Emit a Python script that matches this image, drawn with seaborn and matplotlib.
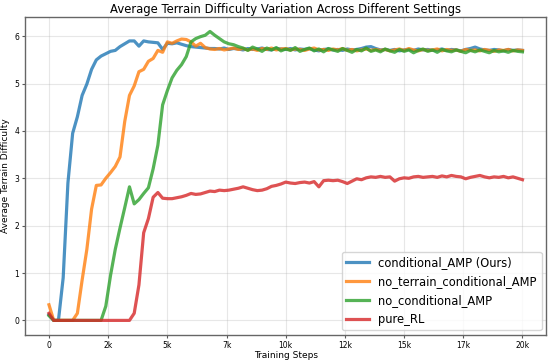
import numpy as np
import pandas as pd
import matplotlib
matplotlib.use("Agg")
import matplotlib.pyplot as plt
from matplotlib.ticker import FuncFormatter, MultipleLocator
import seaborn as sns

step_size = 200  # one logged value every 200 training steps

conditional_amp = [
    0.12, 0.0, 0.0, 0.9, 2.9, 3.95, 4.3, 4.75, 4.99, 5.3,
    5.5, 5.58, 5.63, 5.68, 5.7, 5.78, 5.84, 5.9, 5.9, 5.79,
    5.9, 5.88, 5.87, 5.86, 5.72, 5.85, 5.84, 5.86, 5.83, 5.8,
    5.78, 5.77, 5.76, 5.75, 5.74, 5.74, 5.73, 5.75, 5.72, 5.74,
    5.73, 5.71, 5.74, 5.72, 5.73, 5.75, 5.72, 5.71, 5.74, 5.73,
    5.72, 5.74, 5.71, 5.73, 5.72, 5.74, 5.71, 5.69, 5.72, 5.73,
    5.71, 5.72, 5.70, 5.73, 5.71, 5.72, 5.74, 5.77, 5.78, 5.74,
    5.71, 5.72, 5.70, 5.72, 5.69, 5.71, 5.72, 5.70, 5.73, 5.71,
    5.72, 5.70, 5.71, 5.73, 5.70, 5.72, 5.71, 5.69, 5.72, 5.74,
    5.77, 5.73, 5.71, 5.70, 5.72, 5.71, 5.69, 5.72, 5.70, 5.71,
    5.70,
]

no_terrain_conditional_amp = [
    0.33, 0.0, 0.0, 0.0, 0.0, 0.0, 0.15, 0.85, 1.5, 2.35,
    2.85, 2.86, 3.0, 3.12, 3.25, 3.45, 4.2, 4.75, 4.95, 5.25,
    5.3, 5.47, 5.53, 5.7, 5.66, 5.88, 5.85, 5.9, 5.94, 5.93,
    5.88, 5.79, 5.85, 5.76, 5.73, 5.72, 5.74, 5.71, 5.73, 5.75,
    5.72, 5.74, 5.71, 5.73, 5.70, 5.74, 5.72, 5.75, 5.71, 5.73,
    5.74, 5.71, 5.73, 5.72, 5.70, 5.73, 5.75, 5.71, 5.72, 5.70,
    5.73, 5.71, 5.74, 5.70, 5.72, 5.69, 5.71, 5.73, 5.70, 5.72,
    5.70, 5.72, 5.69, 5.71, 5.73, 5.70, 5.74, 5.71, 5.69, 5.72,
    5.70, 5.71, 5.73, 5.69, 5.72, 5.70, 5.71, 5.68, 5.72, 5.70,
    5.71, 5.69, 5.72, 5.70, 5.68, 5.71, 5.70, 5.72, 5.69, 5.71,
    5.70,
]

no_conditional_amp = [
    0.1, 0.0, 0.0, 0.0, 0.0, 0.0, 0.0, 0.0, 0.0, 0.0,
    0.0, 0.0, 0.3, 0.95, 1.5, 1.95, 2.38, 2.82, 2.46, 2.55,
    2.68, 2.8, 3.2, 3.7, 4.55, 4.85, 5.12, 5.28, 5.4, 5.57,
    5.88, 5.95, 5.99, 6.02, 6.1, 6.02, 5.95, 5.88, 5.84, 5.82,
    5.78, 5.75, 5.70, 5.77, 5.73, 5.68, 5.75, 5.71, 5.76, 5.69,
    5.73, 5.70, 5.76, 5.68, 5.72, 5.75, 5.69, 5.73, 5.67, 5.74,
    5.71, 5.68, 5.74, 5.70, 5.66, 5.72, 5.69, 5.75, 5.68, 5.71,
    5.67, 5.73, 5.69, 5.66, 5.72, 5.68, 5.71, 5.65, 5.70, 5.73,
    5.68, 5.71, 5.66, 5.72, 5.69, 5.67, 5.71, 5.68, 5.65, 5.70,
    5.67, 5.71, 5.68, 5.65, 5.70, 5.67, 5.69, 5.66, 5.70, 5.68,
    5.67,
]

pure_rl = [
    0.15, 0.0, 0.0, 0.0, 0.0, 0.0, 0.0, 0.0, 0.0, 0.0,
    0.0, 0.0, 0.0, 0.0, 0.0, 0.0, 0.0, 0.0, 0.15, 0.75,
    1.85, 2.15, 2.6, 2.7, 2.58, 2.57, 2.57, 2.59, 2.61, 2.64,
    2.68, 2.66, 2.67, 2.70, 2.73, 2.72, 2.75, 2.74, 2.75, 2.77,
    2.79, 2.82, 2.79, 2.76, 2.74, 2.75, 2.78, 2.83, 2.85, 2.88,
    2.92, 2.90, 2.89, 2.91, 2.92, 2.90, 2.93, 2.82, 2.95, 2.96,
    2.95, 2.96, 2.93, 2.89, 2.94, 2.99, 2.97, 3.01, 3.03, 3.02,
    3.04, 3.02, 3.03, 2.94, 2.99, 3.01, 3.00, 3.03, 3.04, 3.02,
    3.03, 3.04, 3.02, 3.05, 3.03, 3.06, 3.04, 3.03, 2.99, 3.02,
    3.04, 3.06, 3.03, 3.01, 3.03, 3.02, 3.04, 3.01, 3.03, 3.00,
    2.97,
]

series = {
    "conditional_AMP (Ours)": conditional_amp,
    "no_terrain_conditional_AMP": no_terrain_conditional_amp,
    "no_conditional_AMP": no_conditional_amp,
    "pure_RL": pure_rl,
}

frames = []
for name, vals in series.items():
    frames.append(pd.DataFrame({
        "step": np.arange(len(vals)) * step_size,
        "difficulty": vals,
        "setting": name,
    }))
df = pd.concat(frames, ignore_index=True)

fig, ax = plt.subplots(figsize=(5.5, 3.62), dpi=100)
sns.lineplot(data=df, x="step", y="difficulty", hue="setting",
             palette=["tab:blue", "tab:orange", "tab:green", "tab:red"],
             linewidth=2.3, alpha=0.8, estimator=None, ax=ax)

ax.set_title("Average Terrain Difficulty Variation Across Different Settings", fontsize=8.4, pad=3)
ax.set_xlabel("Training Steps", fontsize=6.5, labelpad=1)
ax.set_ylabel("Average Terrain Difficulty", fontsize=6.5, labelpad=3)
ax.xaxis.set_major_locator(MultipleLocator(2500))
ax.xaxis.set_major_formatter(FuncFormatter(lambda x, p: "0" if x == 0 else f"{int(x / 1000)}k"))
ax.tick_params(labelsize=5.5, length=2.5, pad=2, color="0.35")
for sp in ax.spines.values():
    sp.set_color("0.4")
    sp.set_linewidth(1.0)
ax.grid(True, alpha=0.3)
ax.legend(loc="lower right", fontsize=8.3, handlelength=2, borderaxespad=0.4)

fig.subplots_adjust(left=0.046, right=0.993, bottom=0.075, top=0.953)
plt.savefig("out.png", dpi=100)
